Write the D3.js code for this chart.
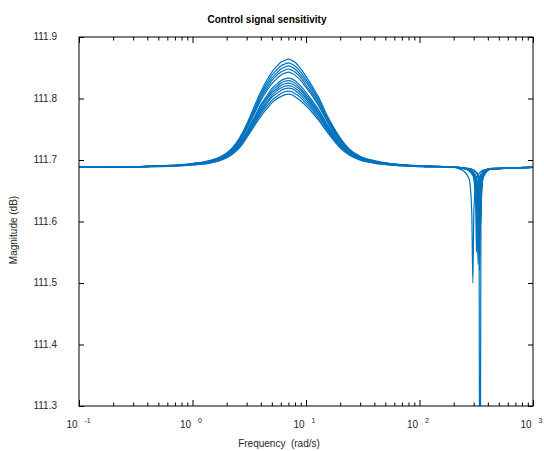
<!DOCTYPE html>
<html>
<head>
<meta charset="utf-8">
<script src="https://cdn.jsdelivr.net/npm/d3@7"></script>
<style>
  body { margin: 0; background: #fff; }
  svg { display: block; font-family: "Liberation Sans", Arial, sans-serif; }
</style>
</head>
<body>
<svg id="chart" width="544" height="451"></svg>
<script>
// frequency grid (rad/s) shared by the resonance part of all curves
const humpFreq = [0.1, 0.3, 0.7, 1, 1.4, 1.8, 2.2, 2.6, 3, 3.5, 4, 4.5, 5, 5.5, 6, 6.5, 7, 7.5, 8, 9, 10, 11.5, 13, 15, 17.5, 20, 24, 30, 40, 55, 80, 120, 180];

// magnitude (dB), one row per model
const humpMag = [
  [111.688, 111.689, 111.692, 111.694, 111.699, 111.706, 111.718, 111.736, 111.758, 111.787, 111.811, 111.829, 111.843, 111.852, 111.859, 111.862, 111.864, 111.862, 111.859, 111.848, 111.836, 111.818, 111.801, 111.776, 111.753, 111.736, 111.718, 111.706, 111.699, 111.694, 111.692, 111.690, 111.689],
  [111.688, 111.689, 111.691, 111.694, 111.698, 111.705, 111.717, 111.734, 111.756, 111.783, 111.807, 111.824, 111.838, 111.846, 111.853, 111.856, 111.858, 111.856, 111.853, 111.843, 111.831, 111.814, 111.797, 111.773, 111.751, 111.734, 111.717, 111.705, 111.698, 111.694, 111.691, 111.690, 111.689],
  [111.688, 111.689, 111.691, 111.694, 111.698, 111.705, 111.716, 111.733, 111.754, 111.780, 111.804, 111.820, 111.833, 111.841, 111.848, 111.851, 111.853, 111.851, 111.848, 111.838, 111.827, 111.810, 111.794, 111.771, 111.749, 111.733, 111.716, 111.705, 111.698, 111.694, 111.691, 111.690, 111.689],
  [111.688, 111.689, 111.691, 111.694, 111.698, 111.704, 111.715, 111.731, 111.752, 111.778, 111.800, 111.816, 111.829, 111.837, 111.843, 111.846, 111.848, 111.846, 111.843, 111.834, 111.822, 111.806, 111.790, 111.768, 111.747, 111.731, 111.715, 111.704, 111.698, 111.694, 111.691, 111.690, 111.689],
  [111.688, 111.689, 111.691, 111.693, 111.697, 111.704, 111.714, 111.730, 111.750, 111.775, 111.797, 111.812, 111.824, 111.832, 111.838, 111.841, 111.843, 111.841, 111.838, 111.829, 111.818, 111.803, 111.787, 111.766, 111.745, 111.730, 111.714, 111.704, 111.697, 111.693, 111.691, 111.690, 111.689],
  [111.688, 111.689, 111.691, 111.693, 111.697, 111.703, 111.713, 111.727, 111.746, 111.769, 111.790, 111.804, 111.816, 111.823, 111.829, 111.832, 111.833, 111.832, 111.829, 111.820, 111.810, 111.795, 111.781, 111.761, 111.742, 111.727, 111.713, 111.703, 111.697, 111.693, 111.691, 111.689, 111.689],
  [111.688, 111.689, 111.691, 111.693, 111.696, 111.702, 111.712, 111.726, 111.744, 111.767, 111.787, 111.801, 111.812, 111.819, 111.825, 111.828, 111.829, 111.828, 111.825, 111.816, 111.806, 111.792, 111.778, 111.759, 111.740, 111.726, 111.712, 111.702, 111.696, 111.693, 111.691, 111.689, 111.689],
  [111.688, 111.689, 111.691, 111.693, 111.696, 111.702, 111.711, 111.725, 111.743, 111.765, 111.784, 111.798, 111.809, 111.815, 111.821, 111.824, 111.825, 111.824, 111.821, 111.813, 111.803, 111.789, 111.776, 111.757, 111.739, 111.725, 111.711, 111.702, 111.696, 111.693, 111.691, 111.689, 111.689],
  [111.688, 111.689, 111.691, 111.693, 111.696, 111.701, 111.711, 111.724, 111.741, 111.762, 111.781, 111.794, 111.805, 111.812, 111.817, 111.820, 111.821, 111.820, 111.817, 111.809, 111.800, 111.786, 111.773, 111.755, 111.737, 111.724, 111.711, 111.701, 111.696, 111.693, 111.691, 111.689, 111.689],
  [111.688, 111.689, 111.691, 111.693, 111.696, 111.701, 111.710, 111.723, 111.740, 111.760, 111.778, 111.791, 111.802, 111.808, 111.813, 111.816, 111.817, 111.816, 111.813, 111.805, 111.796, 111.783, 111.771, 111.753, 111.736, 111.723, 111.710, 111.701, 111.696, 111.693, 111.691, 111.689, 111.689],
  [111.688, 111.689, 111.690, 111.692, 111.695, 111.700, 111.709, 111.721, 111.738, 111.757, 111.775, 111.787, 111.797, 111.803, 111.808, 111.811, 111.812, 111.811, 111.808, 111.801, 111.792, 111.780, 111.767, 111.750, 111.734, 111.721, 111.709, 111.700, 111.695, 111.692, 111.690, 111.689, 111.689],
  [111.688, 111.689, 111.690, 111.692, 111.695, 111.700, 111.708, 111.720, 111.736, 111.755, 111.771, 111.783, 111.793, 111.799, 111.803, 111.806, 111.807, 111.806, 111.803, 111.796, 111.788, 111.776, 111.764, 111.748, 111.732, 111.720, 111.708, 111.700, 111.695, 111.692, 111.690, 111.689, 111.689]
];

// notch near 300 rad/s, per model
const notchFreq = [
  [264, 307, 323, 330, 337, 353, 413, 1000],
  [269, 312, 329, 336, 343, 360, 420, 1000],
  [273, 317, 334, 341, 348, 365, 426, 1000],
  [260, 302, 319, 325, 332, 348, 406, 1000],
  [236, 274, 289, 295, 301, 316, 369, 1000],
  [258, 299, 316, 322, 328, 345, 403, 1000],
  [262, 305, 321, 328, 335, 351, 410, 1000],
  [266, 310, 326, 333, 340, 356, 416, 1000],
  [270, 314, 331, 338, 345, 362, 423, 1000],
  [275, 320, 337, 344, 351, 368, 430, 1000],
  [254, 296, 312, 318, 324, 340, 398, 1000],
  [278, 323, 340, 347, 354, 371, 434, 1000]
];
const notchMag = [
  [111.685, 111.675, 111.637, 111.560, 111.637, 111.675, 111.685, 111.688],
  [111.685, 111.674, 111.633, 111.550, 111.633, 111.674, 111.685, 111.688],
  [111.685, 111.672, 111.625, 110.898, 111.625, 111.672, 111.685, 111.688],
  [111.686, 111.677, 111.645, 111.580, 111.645, 111.677, 111.686, 111.688],
  [111.684, 111.669, 111.613, 111.500, 111.613, 111.669, 111.684, 111.688],
  [111.685, 111.675, 111.637, 111.560, 111.637, 111.675, 111.685, 111.688],
  [111.685, 111.672, 111.625, 111.530, 111.625, 111.672, 111.685, 111.688],
  [111.686, 111.676, 111.641, 111.570, 111.641, 111.676, 111.686, 111.688],
  [111.685, 111.671, 111.621, 111.520, 111.621, 111.671, 111.685, 111.688],
  [111.686, 111.678, 111.649, 111.590, 111.649, 111.678, 111.686, 111.688],
  [111.685, 111.674, 111.633, 111.550, 111.633, 111.674, 111.685, 111.688],
  [111.686, 111.679, 111.653, 111.600, 111.653, 111.679, 111.686, 111.688]
];

const xDecades = [0.1, 1, 10, 100, 1000];
const xExponents = ["-1", "0", "1", "2", "3"];
const yTicks = [111.3, 111.4, 111.5, 111.6, 111.7, 111.8, 111.9];

const margin = {top: 37, right: 11, bottom: 45, left: 79};
const width = 544, height = 451;
const innerWidth = width - margin.left - margin.right;
const innerHeight = height - margin.top - margin.bottom;

const svg = d3.select("#chart");

const xScale = d3.scaleLog().domain([0.1, 1000]).range([margin.left, margin.left + innerWidth]);
const yScale = d3.scaleLinear().domain([111.3, 111.9]).range([margin.top + innerHeight, margin.top]);

svg.append("defs").append("clipPath").attr("id", "plot-clip")
  .append("rect")
  .attr("x", margin.left).attr("y", margin.top)
  .attr("width", innerWidth).attr("height", innerHeight);

// build curves
let series = humpMag.map((row, i) => {
  let pts = humpFreq.map((f, j) => [f, row[j]]);
  notchFreq[i].forEach((f, j) => pts.push([f, notchMag[i][j]]));
  return pts;
});

const line = d3.line()
  .x(d => xScale(d[0]))
  .y(d => yScale(d[1]))
  .curve(d3.curveMonotoneX);

svg.append("g").attr("clip-path", "url(#plot-clip)")
  .selectAll("path")
  .data(series)
  .enter()
  .append("path")
  .attr("d", line)
  .attr("fill", "none")
  .attr("stroke", "#0072bd")
  .attr("stroke-width", 1.2);

// minor ticks for log axis
let minorTicks = [];
xDecades.slice(0, -1).forEach(d => {
  for (let k = 2; k <= 9; k++) minorTicks.push(d * k);
});

function styleAxis(sel) {
  sel.select(".domain").remove();
  sel.selectAll("text").remove();
  sel.selectAll("line").attr("stroke", "#000").attr("stroke-width", 1);
}

const bottomY = margin.top + innerHeight;
const rightX = margin.left + innerWidth;

svg.append("g").attr("transform", `translate(0,${bottomY})`)
  .call(d3.axisBottom(xScale).tickValues(xDecades).tickSizeInner(-6).tickSizeOuter(0))
  .call(styleAxis);
svg.append("g").attr("transform", `translate(0,${bottomY})`)
  .call(d3.axisBottom(xScale).tickValues(minorTicks).tickSizeInner(-3.5).tickSizeOuter(0))
  .call(styleAxis);
svg.append("g").attr("transform", `translate(0,${margin.top})`)
  .call(d3.axisTop(xScale).tickValues(xDecades).tickSizeInner(-6).tickSizeOuter(0))
  .call(styleAxis);
svg.append("g").attr("transform", `translate(0,${margin.top})`)
  .call(d3.axisTop(xScale).tickValues(minorTicks).tickSizeInner(-3.5).tickSizeOuter(0))
  .call(styleAxis);
svg.append("g").attr("transform", `translate(${margin.left},0)`)
  .call(d3.axisLeft(yScale).tickValues(yTicks).tickSizeInner(-5).tickSizeOuter(0))
  .call(styleAxis);
svg.append("g").attr("transform", `translate(${rightX},0)`)
  .call(d3.axisRight(yScale).tickValues(yTicks).tickSizeInner(-5).tickSizeOuter(0))
  .call(styleAxis);

// box
svg.append("rect")
  .attr("x", margin.left).attr("y", margin.top)
  .attr("width", innerWidth).attr("height", innerHeight)
  .attr("fill", "none")
  .attr("stroke", "#000")
  .attr("stroke-width", 1);

// x tick labels 10^n, exponent as a raised tspan
const xLabels = svg.append("g").attr("class", "x-labels");
xDecades.forEach((d, i) => {
  let x = xScale(d);
  let t = xLabels.append("text")
    .attr("x", x - 12.6).attr("y", bottomY + 22)
    .style("font-size", "10px").style("fill", "#262626")
    .text("10");
  t.append("tspan")
    .attr("dx", 7).attr("dy", -5)
    .style("font-size", "7px")
    .text(xExponents[i]);
});

// y tick labels
const yLabels = svg.append("g").attr("class", "y-labels");
yTicks.forEach(v => {
  yLabels.append("text")
    .attr("x", margin.left - 22).attr("y", yScale(v) + 3)
    .attr("text-anchor", "end")
    .style("font-size", "10px").style("fill", "#262626")
    .text(v.toFixed(1));
});

svg.append("text")
  .attr("x", 267).attr("y", 23)
  .attr("text-anchor", "middle")
  .style("font-size", "10px").style("font-weight", "bold")
  .text("Control signal sensitivity");

svg.append("text")
  .attr("x", 279).attr("y", 447)
  .attr("text-anchor", "middle")
  .style("font-size", "10px").style("fill", "#262626")
  .attr("xml:space", "preserve")
  .text("Frequency  (rad/s)");

svg.append("text")
  .attr("transform", "translate(17,230) rotate(-90)")
  .attr("text-anchor", "middle")
  .style("font-size", "10px").style("fill", "#262626")
  .text("Magnitude (dB)");
</script>
</body>
</html>
